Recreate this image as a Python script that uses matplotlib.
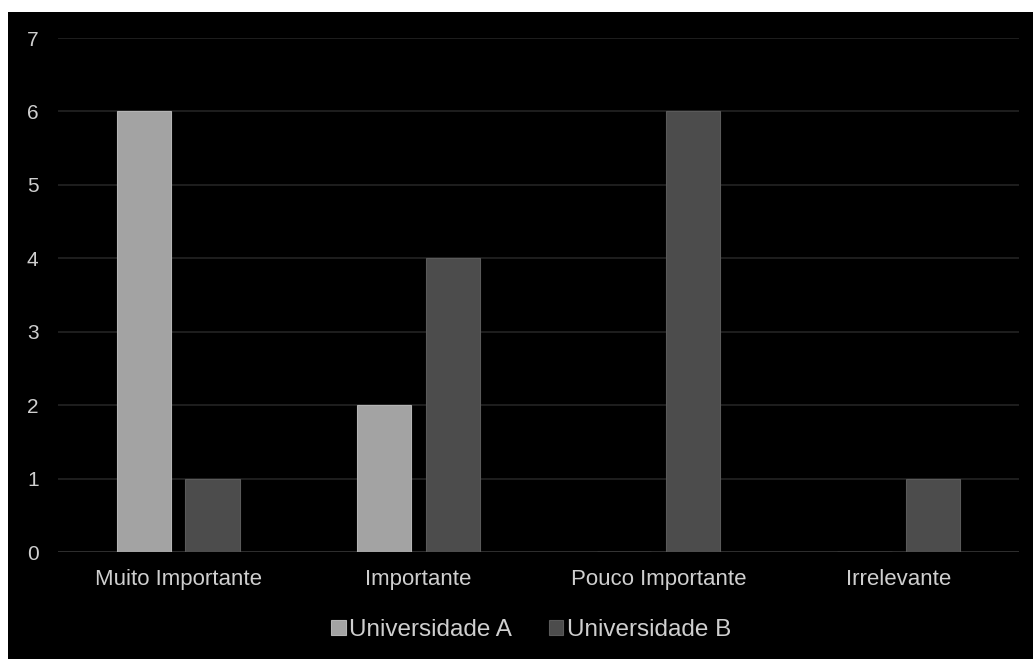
import matplotlib
matplotlib.use("Agg")
import matplotlib.pyplot as plt
import numpy as np
from matplotlib.patches import Rectangle

categories = ["Muito Importante", "Importante", "Pouco Importante", "Irrelevante"]
univ_a = [6, 2, 0, 0]
univ_b = [1, 4, 6, 1]
series_names = ["Universidade A", "Universidade B"]
yticks = [0, 1, 2, 3, 4, 5, 6, 7]

plt.rcParams["font.family"] = ["Liberation Sans", "DejaVu Sans"]

fig = plt.figure(figsize=(10.33, 6.59), dpi=100)
fig.patch.set_facecolor("white")
# black panel (slide background), behind the axes
fig.patches.append(Rectangle((8 / 1033, 0), 1, 1 - 12 / 659, transform=fig.transFigure,
                             facecolor="black", edgecolor="none", zorder=-10))

ax = fig.add_axes([58 / 1033, 1 - 552 / 659, (1019 - 58) / 1033, (552 - 38) / 659])
ax.set_facecolor("black")

x = np.arange(len(categories))
w = 0.225
off = 0.143
bars_a = ax.bar(x - off, univ_a, w, color="#A3A3A3", edgecolor="#B4B4B4", lw=0.8,
                label=series_names[0], zorder=3)
bars_b = ax.bar(x + off, univ_b, w, color="#4C4C4C", edgecolor="#5A5A5A", lw=0.8,
                label=series_names[1], zorder=3)

ax.set_xlim(-0.5, len(categories) - 0.5)
ax.set_ylim(0, 7)
ax.set_yticks(yticks)
ax.yaxis.grid(True, color="#262626", lw=1.1, zorder=1)
ax.set_axisbelow(True)
for s in ax.spines.values():
    s.set_visible(False)
ax.axhline(0, color="#2E2E2E", lw=1.4, zorder=2)

ax.set_xticks(x)
ax.set_xticklabels(categories, fontsize=16)
ax.tick_params(axis="both", length=0, colors="#CFCFCF")
ax.tick_params(axis="y", pad=14, labelsize=15)
ax.tick_params(axis="x", pad=12)

leg = fig.legend(handles=[bars_a, bars_b], loc="center", bbox_to_anchor=(531 / 1033, 1 - 630 / 659),
                 ncol=2, frameon=False, fontsize=17.5, labelcolor="#CFCFCF",
                 handlelength=0.6, handleheight=0.6, handletextpad=0.15, columnspacing=1.5)

plt.savefig("out.png", dpi=100)
